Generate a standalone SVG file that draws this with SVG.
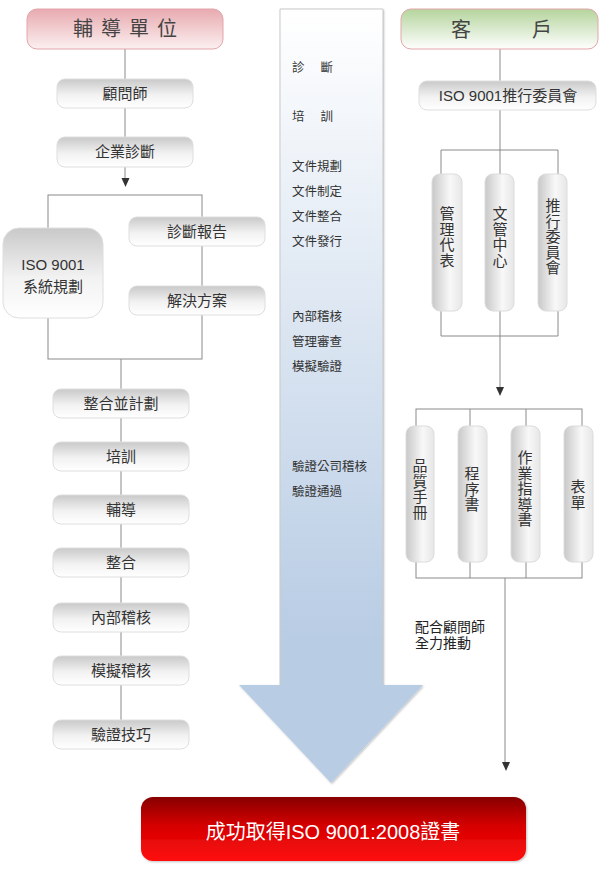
<svg xmlns="http://www.w3.org/2000/svg" width="600" height="872" viewBox="0 0 600 872">
<defs>
<linearGradient id="gBox" x1="0" y1="0" x2="0" y2="1">
<stop offset="0" stop-color="#c9c9c9"/><stop offset="0.55" stop-color="#f2f2f2"/><stop offset="1" stop-color="#ffffff"/>
</linearGradient>
<linearGradient id="gPill" x1="0" y1="0" x2="1" y2="0">
<stop offset="0" stop-color="#c8c8c8"/><stop offset="0.6" stop-color="#f8f8f8"/><stop offset="1" stop-color="#e6e6e6"/>
</linearGradient>
<linearGradient id="gPink" x1="0" y1="0" x2="0" y2="1">
<stop offset="0" stop-color="#e8aab0"/><stop offset="1" stop-color="#fcf0f0"/>
</linearGradient>
<linearGradient id="gGreen" x1="0" y1="0" x2="0" y2="1">
<stop offset="0" stop-color="#b4d49c"/><stop offset="1" stop-color="#ffffff"/>
</linearGradient>
<linearGradient id="gArrow" gradientUnits="userSpaceOnUse" x1="0" y1="9" x2="0" y2="640">
<stop offset="0" stop-color="#ffffff"/><stop offset="1" stop-color="#b8cce4"/>
</linearGradient>
<linearGradient id="gRed" x1="0" y1="0" x2="0" y2="1">
<stop offset="0" stop-color="#870000"/><stop offset="0.45" stop-color="#d60000"/><stop offset="1" stop-color="#ff1010"/>
</linearGradient>
<filter id="sh" x="-10%" y="-10%" width="130%" height="130%">
<feDropShadow dx="1" dy="1" stdDeviation="1.2" flood-color="#000" flood-opacity="0.25"/>
</filter>
<style>
text{font-family:"Liberation Sans","Noto Sans CJK TC",sans-serif;fill:#333;}
.box{fill:url(#gBox);stroke:#dedede;stroke-width:1;}
.pill{fill:url(#gPill);stroke:#dcdcdc;stroke-width:1;}
.t{font-size:15px;text-anchor:middle;}
.a{font-size:12.5px;fill:#333;}
.ln{stroke:#8a8a8a;stroke-width:1;fill:none;}
.ah{fill:#333;}
.hd{font-size:20px;fill:#444;}
.nt{font-size:14px;fill:#222;}
</style>
</defs>

<g id="bigArrow">
<path d="M280,9 H383 V685 H423 L331,783 L239,685 H280 Z" fill="url(#gArrow)" filter="url(#sh)"/>
<path d="M280,685 V9 H383 V685" fill="none" stroke="#c9c9c9" stroke-width="1"/>
</g>

<g id="connectors">
<path class="ln" d="M125,49 V178"/>
<polygon class="ah" points="121.5,178 129.5,178 125.5,187"/>
<rect class="ln" x="48" y="195" width="154" height="164"/>
<path class="ln" d="M121,359 V720"/>
<path class="ln" d="M500,49 V150"/>
<path class="ln" d="M441,150 H558 M441,150 V336 M500,150 V336 M558,150 V336 M441,336 H558 M500,336 V387"/>
<polygon class="ah" points="496,387 504,387 500,396"/>
<rect class="ln" x="416" y="409" width="166" height="169"/>
<path class="ln" d="M470,409 V578 M526,409 V578 M505,578 V762"/>
<polygon class="ah" points="502,762 510,762 506,771"/>
</g>

<g id="arrowText">
<text class="a" x="292" y="72">診　 斷</text>
<text class="a" x="292" y="121">培　 訓</text>
<text class="a" x="292" y="171">文件規劃</text>
<text class="a" x="292" y="196">文件制定</text>
<text class="a" x="292" y="221">文件整合</text>
<text class="a" x="292" y="246">文件發行</text>
<text class="a" x="292" y="321">內部稽核</text>
<text class="a" x="292" y="346">管理審查</text>
<text class="a" x="292" y="371">模擬驗證</text>
<text class="a" x="292" y="471">驗證公司稽核</text>
<text class="a" x="292" y="496">驗證通過</text>
</g>

<g id="hdrLeft">
<rect x="27" y="9" width="196" height="40" rx="10" fill="url(#gPink)" stroke="#e3a5ab"/>
<text class="hd" x="129" y="36" style="text-anchor:middle;letter-spacing:8px">輔導單位</text>
</g>
<g id="n1"><rect class="box" x="57" y="79" width="136" height="29" rx="8"/><text class="t" x="125" y="99">顧問師</text></g>
<g id="n2"><rect class="box" x="57" y="137" width="136" height="30" rx="8"/><text class="t" x="125" y="157">企業診斷</text></g>
<g id="n3"><rect class="box" x="3" y="228" width="100" height="90" rx="16"/><text class="t" x="53" y="270">ISO 9001</text><text class="t" x="53" y="292">系統規劃</text></g>
<g id="n4"><rect class="box" x="129" y="217" width="136" height="29" rx="8"/><text class="t" x="197" y="237">診斷報告</text></g>
<g id="n5"><rect class="box" x="129" y="286" width="136" height="29" rx="8"/><text class="t" x="197" y="306">解決方案</text></g>
<g id="n6"><rect class="box" x="53" y="389" width="136" height="29" rx="8"/><text class="t" x="121" y="409">整合並計劃</text></g>
<g id="n7"><rect class="box" x="53" y="442" width="136" height="29" rx="8"/><text class="t" x="121" y="462">培訓</text></g>
<g id="n8"><rect class="box" x="53" y="495" width="136" height="29" rx="8"/><text class="t" x="121" y="515">輔導</text></g>
<g id="n9"><rect class="box" x="53" y="548" width="136" height="29" rx="8"/><text class="t" x="121" y="568">整合</text></g>
<g id="n10"><rect class="box" x="53" y="603" width="136" height="29" rx="8"/><text class="t" x="121" y="623">內部稽核</text></g>
<g id="n11"><rect class="box" x="53" y="656" width="136" height="29" rx="8"/><text class="t" x="121" y="676">模擬稽核</text></g>
<g id="n12"><rect class="box" x="53" y="720" width="136" height="29" rx="8"/><text class="t" x="121" y="740">驗證技巧</text></g>

<g id="hdrRight">
<rect x="401" y="9" width="197" height="40" rx="10" fill="url(#gGreen)" stroke="#e3a5ab"/>
<text class="hd" x="451" y="37">客</text>
<text class="hd" x="532" y="37">戶</text>
</g>
<g id="r1"><rect class="box" x="419" y="81" width="177" height="29" rx="8"/><text class="t" x="508" y="101">ISO 9001推行委員會</text></g>

<g id="p1"><rect class="pill" x="432" y="174" width="30" height="137" rx="8"/>
<text class="t" x="447" y="219">管<tspan x="447" dy="15.5">理</tspan><tspan x="447" dy="15.5">代</tspan><tspan x="447" dy="15.5">表</tspan></text></g>
<g id="p2"><rect class="pill" x="485" y="174" width="29" height="137" rx="8"/>
<text class="t" x="500" y="219">文<tspan x="500" dy="15.5">管</tspan><tspan x="500" dy="15.5">中</tspan><tspan x="500" dy="15.5">心</tspan></text></g>
<g id="p3"><rect class="pill" x="538" y="174" width="29" height="137" rx="8"/>
<text class="t" x="553" y="211">推<tspan x="553" dy="15.5">行</tspan><tspan x="553" dy="15.5">委</tspan><tspan x="553" dy="15.5">員</tspan><tspan x="553" dy="15.5">會</tspan></text></g>

<g id="q1"><rect class="pill" x="406" y="426" width="28" height="136" rx="8"/>
<text class="t" x="420" y="471">品<tspan x="420" dy="15.5">質</tspan><tspan x="420" dy="15.5">手</tspan><tspan x="420" dy="15.5">冊</tspan></text></g>
<g id="q2"><rect class="pill" x="458" y="426" width="29" height="136" rx="8"/>
<text class="t" x="472" y="479">程<tspan x="472" dy="15.5">序</tspan><tspan x="472" dy="15.5">書</tspan></text></g>
<g id="q3"><rect class="pill" x="511" y="426" width="29" height="136" rx="8"/>
<text class="t" x="525" y="463">作<tspan x="525" dy="15.5">業</tspan><tspan x="525" dy="15.5">指</tspan><tspan x="525" dy="15.5">導</tspan><tspan x="525" dy="15.5">書</tspan></text></g>
<g id="q4"><rect class="pill" x="564" y="426" width="29" height="136" rx="8"/>
<text class="t" x="578" y="492">表<tspan x="578" dy="15.5">單</tspan></text></g>

<g id="note">
<text class="nt" x="415" y="632">配合顧問師</text>
<text class="nt" x="415" y="648">全力推動</text>
</g>

<g id="result">
<rect x="141" y="797" width="385" height="64" rx="12" fill="url(#gRed)" filter="url(#sh)"/>
<text x="333" y="839" style="font-size:20px;text-anchor:middle;fill:#ffffff">成功取得ISO 9001:2008證書</text>
</g>
</svg>
